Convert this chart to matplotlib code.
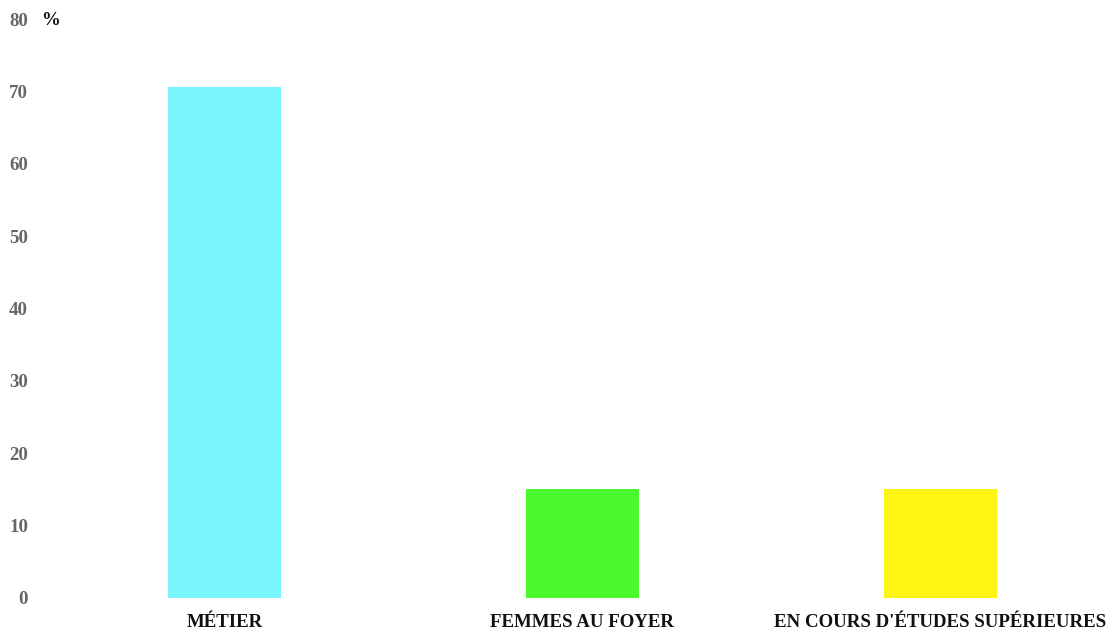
import matplotlib
matplotlib.use("Agg")
import matplotlib.pyplot as plt

categories = ["MÉTIER", "FEMMES AU FOYER", "EN COURS D'ÉTUDES SUPÉRIEURES"]
values = [70.6, 15.0, 15.0]
colors = ["#7af5fb", "#4afa2e", "#fff514"]
yticks = [0, 10, 20, 30, 40, 50, 60, 70, 80]

W, H = 1113, 632
fig = plt.figure(figsize=(W / 100, H / 100), dpi=100)
left_px, bottom_px, top_px = 45.5, 598, 19
ax = fig.add_axes([left_px / W, (H - bottom_px) / H, (W - left_px) / W, (bottom_px - top_px) / H])

x = list(range(len(categories)))
ax.bar(x, values, width=0.316, color=colors)
band = 358.0
ax.set_xlim(-0.5, -0.5 + (W - left_px) / band)
ax.set_ylim(0, 80)

for s in ax.spines.values():
    s.set_visible(False)

font = "Liberation Serif"
fs = 13.6
ax.set_yticks(yticks)
ax.set_yticklabels([str(t) for t in yticks], fontfamily=font, fontweight="bold",
                   fontsize=fs, color="#666666")
ax.tick_params(axis="y", length=0, pad=12.5)
ax.set_xticks(x)
ax.set_xticklabels(categories, fontfamily=font, fontweight="bold", fontsize=fs, color="#111111")
ax.tick_params(axis="x", length=0, pad=11.5)

ax.text((41 - left_px) / (W - left_px), 1.0 - 1.5 / (bottom_px - top_px), "%", transform=ax.transAxes,
        fontfamily=font, fontweight="bold", fontsize=fs, color="#111111",
        ha="left", va="center")

fig.savefig("out.png", dpi=100)
